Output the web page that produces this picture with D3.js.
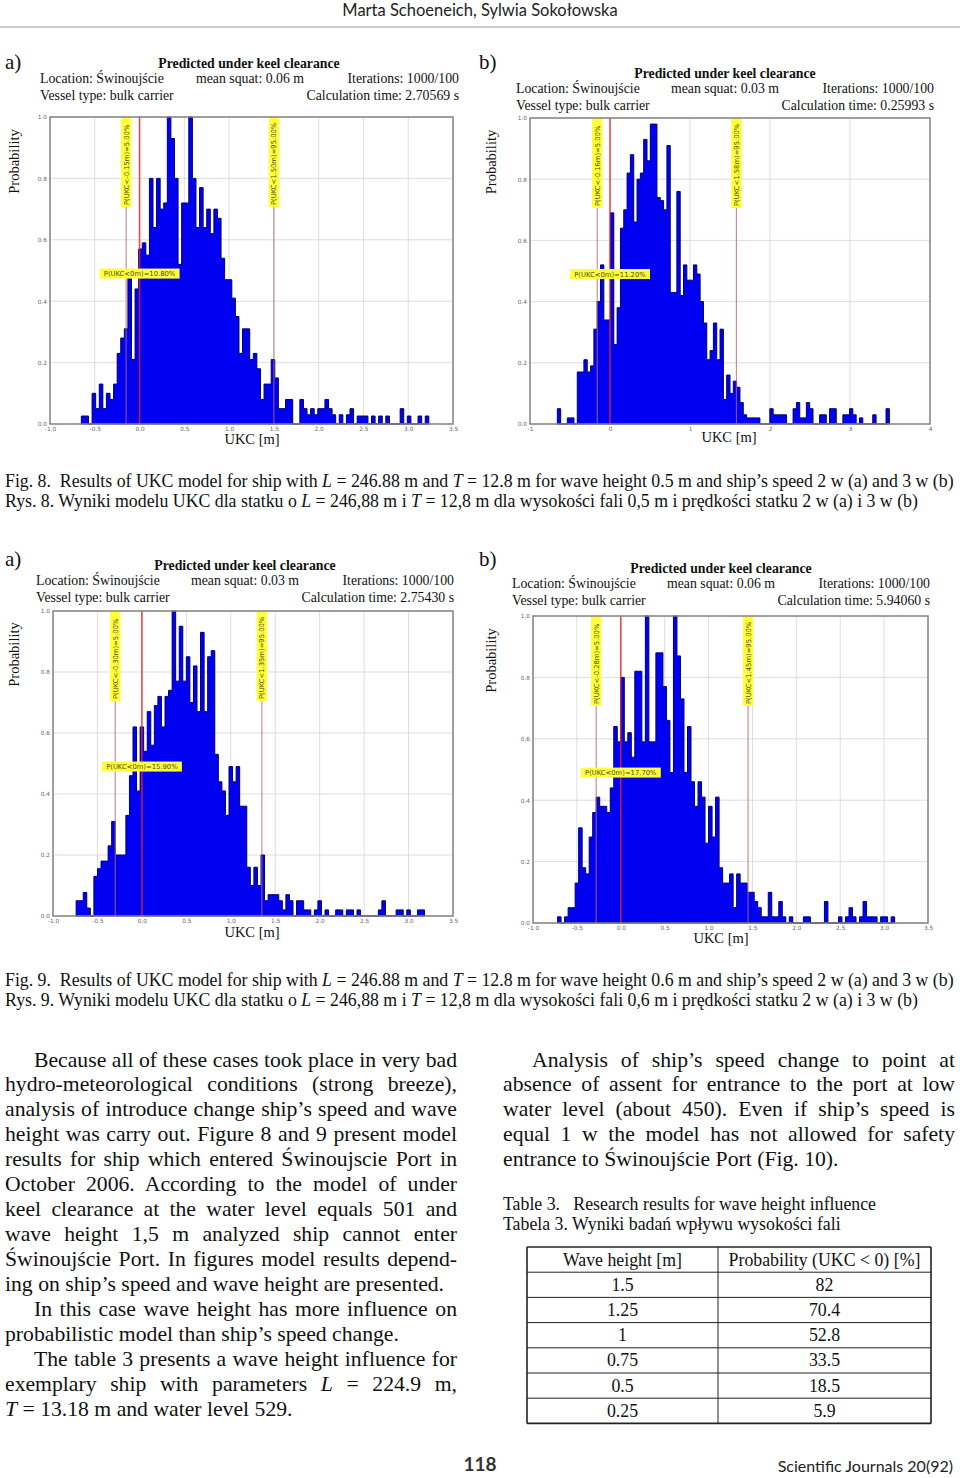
<!DOCTYPE html>
<html lang="en">
<head>
<meta charset="utf-8">
<title>UKC model results</title>
<script src="https://d3js.org/d3.v7.min.js"></script>
<style>
  body { margin: 0; background: #fff; }
  #page { position: relative; width: 960px; height: 1478px; overflow: hidden;
          font-family: "Liberation Serif", "Times New Roman", serif; color: #111; }
  #page svg { position: absolute; left: 0; top: 0; }
  .ln { position: absolute; white-space: nowrap; }
  .just { text-align: justify; text-align-last: justify; }
</style>
</head>
<body>
<div id="page"></div>
<script>

// ---- histogram data (bin heights normalised so the tallest bin = 1.0) ----
var start8a = -0.65, bin8a = 0.04;
var hist8a = [0.026,0.026,0,0.10,0.05,0.13,0.05,0.10,0.08,0.13,
              0.23,0.28,0.31,0.49,0.21,0.44,0.57,0.59,0.55,0.80,
              0.64,0.80,0.70,0.72,1.00,0.93,0.80,0.52,0.72,0.72,
              1.00,0.80,0.64,0.77,0.64,0.70,0.62,0.70,0.67,0.54,
              0.47,0.47,0.41,0.35,0.23,0.31,0.31,0.21,0.23,0.18,
              0.08,0.13,0.13,0.21,0.15,0.05,0.05,0.08,0.08,0,
              0,0.08,0.05,0.03,0.05,0.03,0.05,0.05,0.08,0.05,
              0.03,0,0.03,0,0.03,0.05,0,0.026,0.026,0.026,
              0,0.026,0,0.026,0,0.026,0,0,0,0.05,
              0,0.026,0,0,0.026,0,0.026];

var start8b = -0.658, bin8b = 0.0415;
var hist8b = [0.05,0,0,0.02,0.02,0,0.17,0.17,0.21,0.17,
              0.19,0.31,0.40,0.52,0.34,0.34,0.69,0.26,0.38,0.64,
              0.70,0.82,0.88,0.66,0.80,0.82,0.93,0.86,0.98,0.98,
              0.74,0.73,0.70,0.91,0.43,0.43,0.76,0.42,0.52,0.47,
              0.47,0.52,0.49,0.40,0.33,0.21,0.24,0.33,0.21,0.31,
              0.08,0.16,0.10,0.14,0.12,0.07,0.03,0.02,0.02,0.02,
              0.02,0,0,0,0.05,0.03,0.03,0.03,0.03,0,
              0,0.05,0.07,0.02,0.02,0.07,0.05,0,0,0.03,
              0.03,0,0.05,0.05,0,0,0.03,0.03,0.05,0.03,
              0,0.02,0,0,0,0.03,0,0,0,0.05];

var start9a = -0.74, bin9a = 0.04;
var hist9a = [0.05,0.05,0.077,0.026,0,0.13,0.155,0.18,0.18,0.23,
              0.31,0.20,0.20,0.20,0.33,0.46,0.62,0.41,0.62,0.54,
              0.67,0.56,0.69,0.72,0.62,0.72,0.74,1.00,0.77,0.95,
              0.77,0.85,0.70,0.82,0.67,0.93,0.67,0.85,0.87,0.53,
              0.44,0.41,0.33,0.49,0.44,0.49,0.36,0.36,0.16,0.10,
              0.16,0.10,0.20,0.05,0.07,0.07,0.07,0.05,0.02,0.07,
              0.05,0,0.05,0.05,0.02,0.02,0,0.02,0.05,0,
              0.02,0,0,0.02,0.02,0,0.02,0.02,0,0.02,
              0,0,0,0,0,0.02,0.05,0,0,0,
              0.02,0.02,0,0.02,0,0,0.02,0.02];

var start9b = -0.72, bin9b = 0.04;
var hist9b = [0.02,0,0.02,0.05,0.05,0.13,0.31,0.18,0.16,0.28,
              0.36,0.41,0.38,0.38,0.36,0.44,0.64,0.59,0.80,0.59,
              0.62,0.54,0.82,0.82,0.59,1.00,0.59,0.59,0.88,0.88,
              0.77,0.66,0.49,1.00,0.87,0.73,0.49,0.64,0.46,0.38,
              0.46,0.41,0.26,0.38,0.28,0.41,0.18,0.13,0.13,0.16,
              0.05,0.16,0.13,0.13,0.10,0.10,0.07,0.05,0.02,0.02,
              0.10,0.02,0.02,0.07,0.02,0,0.02,0,0,0,
              0.02,0.02,0,0,0,0,0.07,0,0,0,
              0.02,0,0.02,0.05,0.02,0,0.02,0.07,0.02,0.02,
              0.02,0,0.02,0.02,0,0.02];

// marker positions (UKC at 5 %, 0 m, 95 %) and their labels
var marks8a = [-0.15, 0, 1.50];
var labels8a = ["P(UKC<-0.15m)=5.00%", "P(UKC<0m)=10.80%", "P(UKC<1.50m)=95.00%"];
var marks8b = [-0.16, 0, 1.58];
var labels8b = ["P(UKC<-0.16m)=5.00%", "P(UKC<0m)=11.20%", "P(UKC<1.58m)=95.00%"];
var marks9a = [-0.30, 0, 1.35];
var labels9a = ["P(UKC<-0.30m)=5.00%", "P(UKC<0m)=15.90%", "P(UKC<1.35m)=95.00%"];
var marks9b = [-0.28, 0, 1.45];
var labels9b = ["P(UKC<-0.28m)=5.00%", "P(UKC<0m)=17.70%", "P(UKC<1.45m)=95.00%"];

// header texts of each plot
var squat8a = "0.06", time8a = "2.70569";
var squat8b = "0.03", time8b = "0.25993";
var squat9a = "0.03", time9a = "2.75430";
var squat9b = "0.06", time9b = "5.94060";

var ticksHalf = [-1.0, -0.5, 0.0, 0.5, 1.0, 1.5, 2.0, 2.5, 3.0, 3.5];
var ticksWhole = [-1, 0, 1, 2, 3, 4];
var probTicks = [0, 0.2, 0.4, 0.6, 0.8, 1.0];

// table 3
var waveHeights = ["1.5", "1.25", "1", "0.75", "0.5", "0.25"];
var probUKC = ["82", "70.4", "52.8", "33.5", "18.5", "5.9"];

var page = d3.select("#page");
var svg = page.append("svg").attr("width", 960).attr("height", 1478);

function txt(x, y, s, size, anchor, extra) {
  var t = svg.append("text").attr("x", x).attr("y", y)
    .attr("font-size", size).attr("text-anchor", anchor || "start")
    .attr("fill", "#111").text(s);
  if (extra) extra(t);
  return t;
}

function drawPanel(p) {
  var x = d3.scaleLinear().domain(p.domain).range([p.x0, p.x1]);
  var y = d3.scaleLinear().domain([0, 1]).range([p.y1, p.y0]);
  var g = svg.append("g");

  // header
  txt(p.letterX, p.letterY, p.letter, 21);
  txt(p.titleX, p.titleY, "Predicted under keel clearance", 13.8, "middle", t => t.attr("font-weight", "bold"));
  txt(p.infoX, p.titleY + 15, "Location: Świnoujście", 13.8);
  txt(p.squatX, p.titleY + 15, "mean squat: " + p.squat + " m", 13.8);
  txt(p.x1 + p.infoR, p.titleY + 15, "Iterations: 1000/100", 13.8, "end");
  txt(p.infoX, p.titleY + 32, "Vessel type: bulk carrier", 13.8);
  txt(p.x1 + p.infoR, p.titleY + 32, "Calculation time: " + p.time + " s", 13.8, "end");
  var py = (p.y0 + p.y1) / 2 - 109;
  txt(p.probX, py, "Probability", 14.5, "middle",
      t => t.attr("transform", "rotate(-90," + p.probX + "," + py + ")"));
  txt(p.ukcX, p.ukcY, "UKC [m]", 14.5, "middle");

  // grid
  g.selectAll(".gx").data(p.ticks).enter().append("line")
    .attr("x1", d => x(d)).attr("x2", d => x(d))
    .attr("y1", p.y0).attr("y2", p.y1)
    .attr("stroke", "#d4d4d4").attr("stroke-width", 0.8);
  g.selectAll(".gy").data(probTicks).enter().append("line")
    .attr("x1", p.x0).attr("x2", p.x1)
    .attr("y1", d => y(d)).attr("y2", d => y(d))
    .attr("stroke", "#d4d4d4").attr("stroke-width", 0.8);

  // histogram as a filled step outline
  var pts = p.hist.map((h, i) => [p.start + i * p.bin, h]);
  pts.push([p.start + p.hist.length * p.bin, 0]);
  pts.unshift([p.start, 0]);
  var area = d3.area()
    .x(d => x(d[0])).y0(y(0)).y1(d => y(d[1]))
    .curve(d3.curveStepAfter);
  g.append("path").datum(pts).attr("d", area)
    .attr("fill", "#0000f2").attr("stroke", "#00006e").attr("stroke-width", 1);

  // marker lines
  g.selectAll(".mk").data(p.marks).enter().append("line")
    .attr("x1", d => x(d)).attr("x2", d => x(d))
    .attr("y1", p.y0).attr("y2", p.y1)
    .attr("stroke", (d, i) => i == 1 ? "#e02828" : "#b86a6a")
    .attr("stroke-width", (d, i) => i == 1 ? 1.6 : 1.1)
    .attr("opacity", 0.8);

  // labels
  [0, 2].forEach(function (i) {
    var lx = x(p.marks[i]);
    g.append("rect").attr("x", lx - 5.2).attr("y", p.y0).attr("width", 10.4).attr("height", 90)
      .attr("fill", "#ffff3a");
    g.append("text").attr("x", lx + 2.5).attr("y", p.y0 + 88)
      .attr("transform", "rotate(-90," + (lx + 2.5) + "," + (p.y0 + 88) + ")")
      .attr("font-family", "DejaVu Sans, sans-serif").attr("font-size", 6.8)
      .attr("fill", "#4a4a20").text(p.labels[i]);
  });
  var cx = x(0), cy = y(0.49);
  g.append("rect").attr("x", cx - 40).attr("y", cy - 5).attr("width", 80).attr("height", 10)
    .attr("fill", "#ffff3a");
  g.append("text").attr("x", cx).attr("y", cy + 2.5).attr("text-anchor", "middle")
    .attr("font-family", "DejaVu Sans, sans-serif").attr("font-size", 6.8)
    .attr("fill", "#4a4a20").text(p.labels[1]);

  // frame
  g.append("rect").attr("x", p.x0).attr("y", p.y0)
    .attr("width", p.x1 - p.x0).attr("height", p.y1 - p.y0)
    .attr("fill", "none").attr("stroke", "#858585").attr("stroke-width", 1.5);

  // axes (labels only)
  var xAxis = d3.axisBottom(x).tickValues(p.ticks).tickSize(0).tickPadding(3)
    .tickFormat(p.fmt);
  var ax = g.append("g").attr("transform", "translate(0," + p.y1 + ")").call(xAxis);
  var yAxis = d3.axisLeft(y).tickValues(probTicks).tickSize(0).tickPadding(3)
    .tickFormat(d => d.toFixed(1));
  var ay = g.append("g").attr("transform", "translate(" + p.x0 + ",0)").call(yAxis);
  [ax, ay].forEach(function (a) {
    a.select(".domain").remove();
    a.selectAll("text").attr("font-size", 5.8).attr("fill", "#666")
      .attr("font-family", "DejaVu Sans, sans-serif");
  });
}

drawPanel({letter: "a)", letterX: 5, letterY: 69, titleX: 249, titleY: 68, infoX: 40, squatX: 196, infoR: 6,
  squat: squat8a, time: time8a, probX: 19, ukcX: 252, ukcY: 444,
  x0: 50, x1: 453, y0: 117, y1: 424, domain: [-1, 3.5], ticks: ticksHalf, fmt: d => d.toFixed(1),
  hist: hist8a, start: start8a, bin: bin8a, marks: marks8a, labels: labels8a});
drawPanel({letter: "b)", letterX: 479, letterY: 69, titleX: 725, titleY: 78, infoX: 516, squatX: 671, infoR: 4,
  squat: squat8b, time: time8b, probX: 496, ukcX: 729, ukcY: 442,
  x0: 530, x1: 930, y0: 118, y1: 424, domain: [-1, 4], ticks: ticksWhole, fmt: d => String(d),
  hist: hist8b, start: start8b, bin: bin8b, marks: marks8b, labels: labels8b});
drawPanel({letter: "a)", letterX: 5, letterY: 566, titleX: 245, titleY: 570, infoX: 36, squatX: 191, infoR: 1,
  squat: squat9a, time: time9a, probX: 19, ukcX: 252, ukcY: 937,
  x0: 53, x1: 453, y0: 611, y1: 916, domain: [-1, 3.5], ticks: ticksHalf, fmt: d => d.toFixed(1),
  hist: hist9a, start: start9a, bin: bin9a, marks: marks9a, labels: labels9a});
drawPanel({letter: "b)", letterX: 479, letterY: 566, titleX: 721, titleY: 573, infoX: 512, squatX: 667, infoR: 2,
  squat: squat9b, time: time9b, probX: 496, ukcX: 721, ukcY: 943,
  x0: 533, x1: 928, y0: 616, y1: 923, domain: [-1, 3.5], ticks: ticksHalf, fmt: d => d.toFixed(1),
  hist: hist9b, start: start9b, bin: bin9b, marks: marks9b, labels: labels9b});

// running header and footer
svg.append("text").attr("x", 480).attr("y", 16).attr("text-anchor", "middle")
  .attr("font-family", "Lato, 'Open Sans', sans-serif").attr("font-size", 16.5).attr("fill", "#222")
  .text("Marta Schoeneich, Sylwia Sokołowska");
svg.append("line").attr("x1", 0).attr("x2", 960).attr("y1", 27).attr("y2", 27)
  .attr("stroke", "#999").attr("stroke-width", 1);
svg.append("text").attr("x", 480).attr("y", 1471).attr("text-anchor", "middle")
  .attr("font-family", "Lato, 'Open Sans', sans-serif").attr("font-weight", "bold").attr("font-size", 19).attr("fill", "#333")
  .text("118");
svg.append("text").attr("x", 953).attr("y", 1472).attr("text-anchor", "end")
  .attr("font-family", "Lato, 'Open Sans', sans-serif").attr("font-size", 16).attr("fill", "#222")
  .text("Scientific Journals 20(92)");

// captions and body text as HTML lines
function line(x, yc, w, size, html, just) {
  page.append("div").attr("class", "ln" + (just ? " just" : ""))
    .style("left", x + "px").style("top", (yc - size * 0.62) + "px")
    .style("width", w + "px").style("font-size", size + "px")
    .style("line-height", (size * 1.24) + "px")
    .html(html);
}

line(5, 481, 948, 17.8, "Fig. 8.&nbsp; Results of UKC model for ship with <i>L</i> = 246.88 m and <i>T</i> = 12.8 m for wave height 0.5 m and ship’s speed 2 w (a) and 3 w (b)", true);
line(5, 501, 948, 17.8, "Rys. 8. Wyniki modelu UKC dla statku o <i>L</i> = 246,88 m i <i>T</i> = 12,8 m dla wysokości fali 0,5 m i prędkości statku 2 w (a) i 3 w (b)", false);
line(5, 980, 948, 17.8, "Fig. 9.&nbsp; Results of UKC model for ship with <i>L</i> = 246.88 m and <i>T</i> = 12.8 m for wave height 0.6 m and ship’s speed 2 w (a) and 3 w (b)", true);
line(5, 1000, 948, 17.8, "Rys. 9. Wyniki modelu UKC dla statku o <i>L</i> = 246,88 m i <i>T</i> = 12,8 m dla wysokości fali 0,6 m i prędkości statku 2 w (a) i 3 w (b)", false);

var leftLines = [
  [34, "Because all of these cases took place in very bad", true],
  [5, "hydro-meteorological conditions (strong breeze),", true],
  [5, "analysis of introduce change ship’s speed and wave", true],
  [5, "height was carry out. Figure 8 and 9 present model", true],
  [5, "results for ship which entered Świnoujscie Port in", true],
  [5, "October 2006. According to the model of under", true],
  [5, "keel clearance at the water level equals 501 and", true],
  [5, "wave height 1,5 m analyzed ship cannot enter", true],
  [5, "Świnoujście Port. In figures model results depend-", true],
  [5, "ing on ship’s speed and wave height are presented.", false],
  [34, "In this case wave height has more influence on", true],
  [5, "probabilistic model than ship’s speed change.", false],
  [34, "The table 3 presents a wave height influence for", true],
  [5, "exemplary ship with parameters <i>L</i> = 224.9 m,", true],
  [5, "<i>T</i> = 13.18 m and water level 529.", false]
];
leftLines.forEach(function (l, i) {
  line(l[0], 1060 + i * 24.93, 457 - l[0], 21.7, l[1], l[2]);
});
var rightLines = [
  [532, "Analysis of ship’s speed change to point at", true],
  [503, "absence of assent for entrance to the port at low", true],
  [503, "water level (about 450). Even if ship’s speed is", true],
  [503, "equal 1 w the model has not allowed for safety", true],
  [503, "entrance to Świnoujście Port (Fig. 10).", false]
];
rightLines.forEach(function (l, i) {
  line(l[0], 1060 + i * 24.93, 955 - l[0], 21.7, l[1], l[2]);
});
line(503, 1204, 440, 17.8, "Table 3.&nbsp;&nbsp; Research results for wave height influence", false);
line(503, 1224, 440, 17.8, "Tabela 3. Wyniki badań wpływu wysokości fali", false);

// table 3
var tx0 = 527, tx1 = 931, tmid = 718, ty0 = 1247, rowH = 25.2;
var rows = [["Wave height [m]", "Probability (UKC < 0) [%]"]]
  .concat(waveHeights.map((w, i) => [w, probUKC[i]]));
var tg = svg.append("g");
tg.selectAll(".hl").data(d3.range(rows.length + 1)).enter().append("line")
  .attr("x1", tx0).attr("x2", tx1)
  .attr("y1", d => ty0 + d * rowH).attr("y2", d => ty0 + d * rowH)
  .attr("stroke", "#222").attr("stroke-width", (d) => (d == 0 || d == rows.length) ? 1.6 : 1);
[tx0, tmid, tx1].forEach(function (vx, i) {
  tg.append("line").attr("x1", vx).attr("x2", vx).attr("y1", ty0).attr("y2", ty0 + rows.length * rowH)
    .attr("stroke", "#222").attr("stroke-width", i == 1 ? 1 : 1.6);
});
rows.forEach(function (r, i) {
  var yy = ty0 + i * rowH + rowH / 2 + 6;
  tg.append("text").attr("x", (tx0 + tmid) / 2).attr("y", yy).attr("text-anchor", "middle")
    .attr("font-size", 17.8).attr("fill", "#111").text(r[0]);
  tg.append("text").attr("x", (tmid + tx1) / 2).attr("y", yy).attr("text-anchor", "middle")
    .attr("font-size", 17.8).attr("fill", "#111").text(r[1]);
});

</script>
</body>
</html>
